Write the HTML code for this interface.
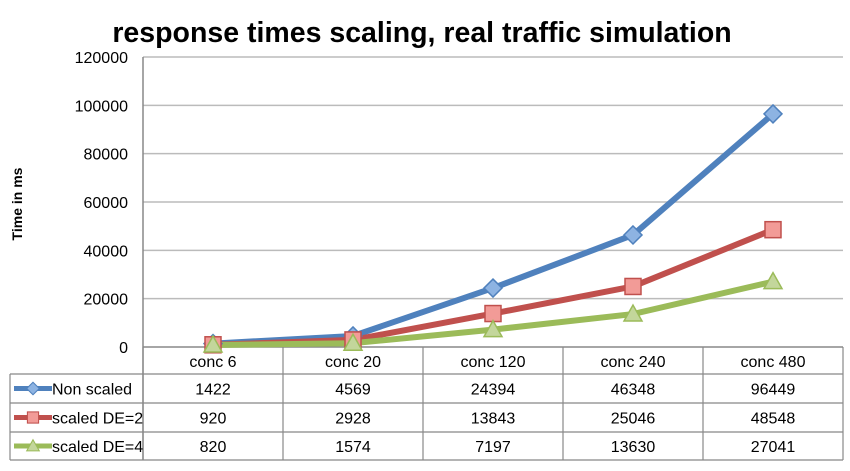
<!DOCTYPE html>
<html><head><meta charset="utf-8"><style>
body{margin:0;background:#fff;width:850px;height:466px;overflow:hidden}
svg text{font-family:"Liberation Sans",sans-serif}
</style></head><body>
<svg id="chart" width="850" height="466" viewBox="0 0 850 466" xmlns="http://www.w3.org/2000/svg">
<text x="422" y="42" text-anchor="middle" font-size="28.5" font-weight="bold" fill="#000">response times scaling, real traffic simulation</text>
<text transform="translate(22,204) rotate(-90)" text-anchor="middle" font-size="14" font-weight="bold">Time in ms</text>
<g id="grid"></g><g id="series"></g><g id="table"></g>
</svg>
<script>
const categories=["conc 6","conc 20","conc 120","conc 240","conc 480"];
const seriesNames=["Non scaled","scaled DE=2","scaled DE=4"];
const nonScaled=[1422,4569,24394,46348,96449];
const scaledDE2=[920,2928,13843,25046,48548];
const scaledDE4=[820,1574,7197,13630,27041];
const yTicks=[0,20000,40000,60000,80000,100000,120000];
const svg=document.getElementById('chart'),NS='http://www.w3.org/2000/svg';
const X0=143,CW=140,Y0=347,YMAX=120000,YTOP=57;
const x=i=>X0+CW*(i+0.5);
const y=v=>Y0-(v/YMAX)*(Y0-YTOP);
function el(t,a,p){const e=document.createElementNS(NS,t);for(const k in a)e.setAttribute(k,a[k]);p.appendChild(e);return e;}
const grid=document.getElementById('grid');
yTicks.forEach(v=>{
 const l=el('line',{x1:X0,x2:X0+CW*5,y1:y(v),y2:y(v),stroke:v===0?'#888':'#bbb','stroke-width':1.5},grid);
 
 
 const t=el('text',{x:128,y:y(v)+6,'text-anchor':'end','font-size':16},grid);t.textContent=v;
 
 
});
const ax=el('line',{x1:X0,x2:X0,y1:YTOP,y2:460,stroke:'#888','stroke-width':1.5},grid);


const colors=['#4f81bd','#c0504d','#9bbb59'],fills=['#8db3e2','#f29b97','#c3d69b'];
const data=[nonScaled,scaledDE2,scaledDE4];
function marker(k,cx,cy,g){
 let m;
 if(k===0)m=el('polygon',{points:`${cx},${cy-9} ${cx+9},${cy} ${cx},${cy+9} ${cx-9},${cy}`},g);
 else if(k===1)m=el('rect',{x:cx-8,y:cy-8,width:16,height:16},g);
 else m=el('polygon',{points:`${cx},${cy-9} ${cx+9},${cy+7} ${cx-9},${cy+7}`},g);
 m.setAttribute('fill',fills[k]);m.setAttribute('stroke',colors[k]);m.setAttribute('stroke-width',1.5);
 return m;
}
const sg=document.getElementById('series');
data.forEach((d,k)=>{
 const p=el('polyline',{points:d.map((v,i)=>x(i)+','+y(v)).join(' '),fill:'none',stroke:colors[k],'stroke-width':6,'stroke-linejoin':'round'},sg);
 
 
});
data.forEach((d,k)=>d.forEach((v,i)=>{
 const m=marker(k,x(i),y(v),sg);
 
 
}));
const tb=document.getElementById('table');
const rows=[374,403,432,460];
categories.forEach((c,i)=>{
 const t=el('text',{x:x(i),y:367,'text-anchor':'middle','font-size':16},tb);t.textContent=c;
 
 
});
for(let i=0;i<=5;i++){el('line',{x1:X0+CW*i,x2:X0+CW*i,y1:Y0,y2:460,stroke:'#888','stroke-width':1.2},tb);}
rows.forEach(r=>el('line',{x1:10,x2:X0+CW*5,y1:r,y2:r,stroke:'#888','stroke-width':1.2},tb));
el('line',{x1:10,x2:10,y1:374,y2:460,stroke:'#888','stroke-width':1.2},tb);
data.forEach((d,k)=>{
 const cy=(rows[k]+rows[k+1])/2;
 el('line',{x1:14,x2:52,y1:cy,y2:cy,stroke:colors[k],'stroke-width':5},tb);
 marker(k,33,cy,tb).setAttribute('transform',`translate(${33*0.3},${cy*0.3}) scale(0.7)`);
 const n=el('text',{x:52,y:cy+6,'font-size':16},tb);n.textContent=seriesNames[k];
 
 
 d.forEach((v,i)=>{
  const t=el('text',{x:x(i),y:cy+6,'text-anchor':'middle','font-size':16},tb);t.textContent=v;
  
  
 });
});
</script>
</body></html>
